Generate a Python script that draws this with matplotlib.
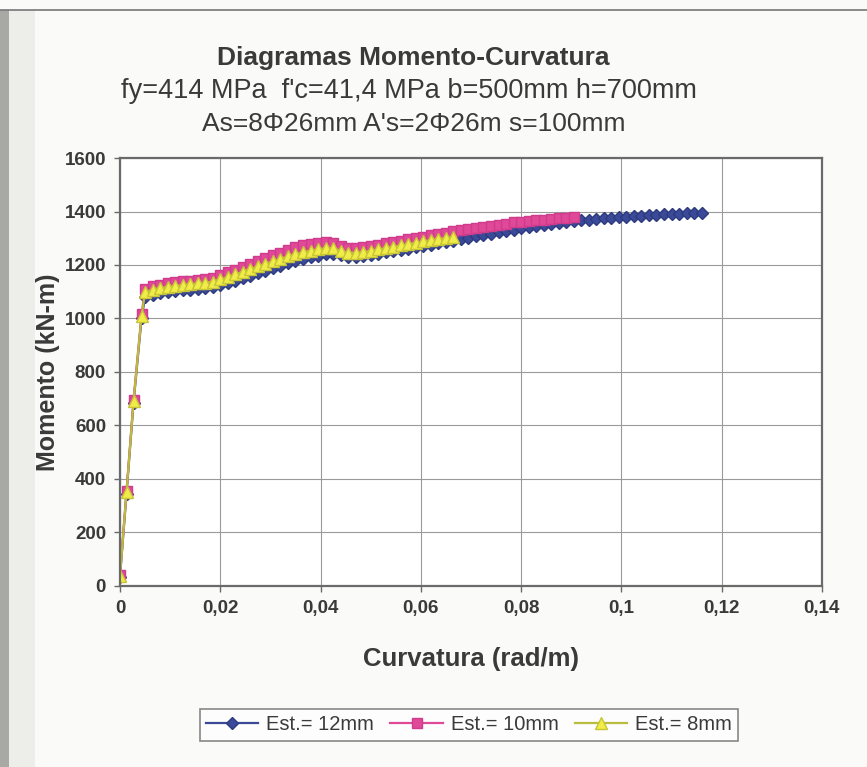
import matplotlib
matplotlib.use("Agg")
import matplotlib.pyplot as plt
from matplotlib.patches import Rectangle

# Curvature values (rad/m), shared by the three series (each series is cut to its length)
curv = [0.0, 0.0013, 0.0027, 0.0043,
        0.0050, 0.0065, 0.0080, 0.0095, 0.0110, 0.0125, 0.0140, 0.0155, 0.0170, 0.0185,
        0.0200, 0.0215, 0.0230, 0.0245, 0.0260, 0.0275, 0.0290, 0.0305, 0.0320, 0.0335,
        0.0350, 0.0365, 0.0380, 0.0395, 0.0410, 0.0425, 0.0440, 0.0455, 0.0470, 0.0485,
        0.0500, 0.0515, 0.0530, 0.0545, 0.0560, 0.0575, 0.0590, 0.0605, 0.0620, 0.0635,
        0.0650, 0.0665, 0.0680, 0.0695, 0.0710, 0.0725, 0.0740, 0.0755, 0.0770, 0.0785,
        0.0800, 0.0815, 0.0830, 0.0845, 0.0860, 0.0875, 0.0890, 0.0905,
        0.0920, 0.0935, 0.0950, 0.0965, 0.0980, 0.0995,
        0.1010, 0.1025, 0.1040, 0.1055, 0.1070, 0.1085, 0.1100, 0.1115, 0.1130, 0.1145, 0.1160]

# Moment (kN-m) for each stirrup size
m_12mm = [35, 345, 685, 1000,
          1080, 1088, 1094, 1098, 1102, 1105, 1108, 1111, 1114, 1118,
          1125, 1133, 1142, 1151, 1160, 1170, 1179, 1188, 1197, 1206,
          1214, 1222, 1229, 1235, 1240, 1242, 1236, 1230, 1229, 1233,
          1238, 1242, 1247, 1251, 1256, 1261, 1266, 1271, 1276, 1281,
          1286, 1291, 1297, 1302, 1307, 1312, 1317, 1322, 1327, 1332,
          1337, 1341, 1345, 1349, 1353, 1357, 1361, 1364,
          1367, 1370, 1372, 1374, 1376, 1378,
          1380, 1382, 1384, 1386, 1388, 1389, 1390, 1392, 1393, 1395, 1396]

m_10mm = [40, 355, 695, 1015,
          1110, 1120, 1127, 1132, 1136, 1139, 1142, 1145, 1148, 1152,
          1162, 1172, 1182, 1193, 1204, 1215, 1226, 1236, 1246, 1256,
          1266, 1273, 1279, 1283, 1286, 1284, 1272, 1264, 1262, 1266,
          1271, 1276, 1281, 1286, 1291, 1296, 1301, 1306, 1311, 1316,
          1321, 1326, 1331, 1335, 1339, 1343, 1347, 1351, 1355, 1359,
          1362, 1365, 1368, 1370, 1372, 1374, 1376, 1378]

m_8mm = [38, 350, 690, 1010,
         1098, 1108, 1114, 1118, 1122, 1125, 1128, 1131, 1134, 1138,
         1146, 1155, 1165, 1175, 1185, 1195, 1205, 1214, 1223, 1232,
         1240, 1248, 1254, 1259, 1263, 1263, 1253, 1246, 1245, 1248,
         1253, 1258, 1263, 1268, 1273, 1278, 1283, 1288, 1293, 1297,
         1301, 1305]

labels = ["Est.= 12mm", "Est.= 10mm", "Est.= 8mm"]
x_ticks = [0, 0.02, 0.04, 0.06, 0.08, 0.1, 0.12, 0.14]
x_tick_labels = ["0", "0,02", "0,04", "0,06", "0,08", "0,1", "0,12", "0,14"]
y_ticks = [0, 200, 400, 600, 800, 1000, 1200, 1400, 1600]

plt.rcParams['font.family'] = ['Liberation Sans', 'DejaVu Sans']
txt = '#3a3a3a'

fig = plt.figure(figsize=(8.67, 7.67), dpi=100, facecolor='#fafaf8')
# scanned page edges
fig.patches.append(Rectangle((0, 0), 0.010, 0.987, transform=fig.transFigure,
                             facecolor='#a8a8a4', edgecolor='none', zorder=-2))
fig.patches.append(Rectangle((0.010, 0), 0.030, 0.987, transform=fig.transFigure,
                             facecolor='#ededea', edgecolor='none', zorder=-2))
fig.add_artist(plt.Line2D([0, 1], [0.987, 0.987], transform=fig.transFigure,
                          color='#777777', lw=1.2))

ax = fig.add_axes([0.1384, 0.236, 0.8096, 0.558])
ax.set_facecolor('white')

ax.plot(curv[:len(m_12mm)], m_12mm, color='#3b4a98', lw=1.6, marker='D',
        markersize=6.5, markerfacecolor='#3b4a98', markeredgecolor='#2e3a80', label=labels[0])
ax.plot(curv[:len(m_10mm)], m_10mm, color='#e04898', lw=1.6, marker='s',
        markersize=7, markerfacecolor='#e04898', markeredgecolor='#d03c8c', label=labels[1])
ax.plot(curv[:len(m_8mm)], m_8mm, color='#bcbc3c', lw=1.6, marker='^',
        markersize=8, markerfacecolor='#f0ec48', markeredgecolor='#c8c438', label=labels[2])

ax.set_xlim(0, 0.14)
ax.set_ylim(0, 1600)
ax.set_xticks(x_ticks)
ax.set_xticklabels(x_tick_labels)
ax.set_yticks(y_ticks)
ax.grid(True, color='#9a9a9a', lw=0.8)
ax.set_axisbelow(True)
for s in ax.spines.values():
    s.set_color('#6a6a6a')
    s.set_linewidth(1.6)
ax.tick_params(direction='out', length=4, width=1, color='#6a6a6a',
               labelsize=13.5, labelcolor=txt, pad=6)
for lab in ax.get_xticklabels() + ax.get_yticklabels():
    lab.set_fontweight('bold')

ax.set_xlabel("Curvatura (rad/m)", fontsize=18.5, fontweight='bold', color=txt, labelpad=22)
ax.set_ylabel("Momento (kN-m)", fontsize=18, fontweight='bold', color=txt, labelpad=3)

fig.text(0.477, 0.925, "Diagramas Momento-Curvatura", ha='center', va='center',
         fontsize=19, fontweight='bold', color=txt)
fig.text(0.472, 0.882, "fy=414 MPa  f'c=41,4 MPa b=500mm h=700mm", ha='center', va='center',
         fontsize=19.5, color=txt)
fig.text(0.477, 0.838, "As=8\u03a626mm A's=2\u03a626m s=100mm", ha='center', va='center',
         fontsize=19, color=txt)

leg = fig.legend(loc='center', bbox_to_anchor=(0.541, 0.0548), ncol=3, fontsize=14.5,
                 frameon=True, fancybox=False, edgecolor='#6a6a6a', handlelength=2.6,
                 columnspacing=0.8, handletextpad=0.4, borderpad=0.3)
leg.get_frame().set_linewidth(1.2)
for t in leg.get_texts():
    t.set_color(txt)

fig.savefig("out.png", dpi=100, facecolor=fig.get_facecolor())
